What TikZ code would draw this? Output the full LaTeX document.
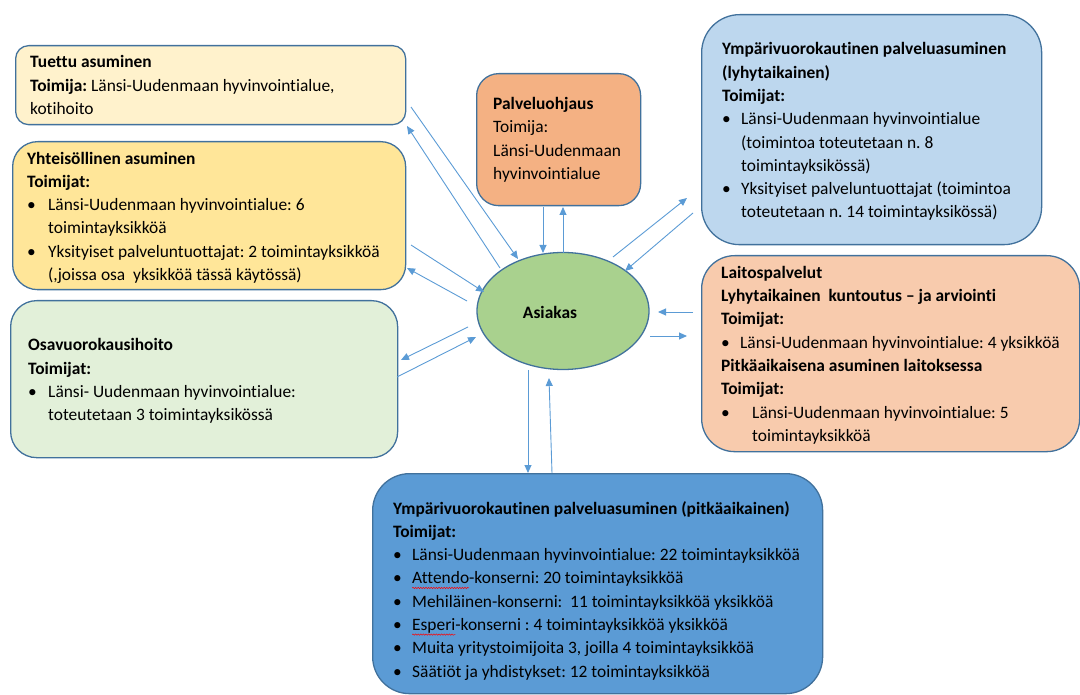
\documentclass[tikz,border=0pt]{standalone}
\usepackage{fontspec}
\setmainfont{Carlito}[Ligatures=NoCommon]
\usetikzlibrary{arrows.meta,shapes.geometric,decorations.pathmorphing}
\definecolor{edgeblue}{HTML}{41719C}
\definecolor{arrowc}{HTML}{5B9BD5}
\definecolor{cTuettu}{HTML}{FFF2CC}
\definecolor{cYht}{HTML}{FFE699}
\definecolor{cOsa}{HTML}{E2F0D9}
\definecolor{cPalv}{HTML}{F4B183}
\definecolor{cLyh}{HTML}{BDD7EE}
\definecolor{cLait}{HTML}{F8CBAD}
\definecolor{cPitk}{HTML}{5B9BD5}
\definecolor{cAsi}{HTML}{A9D18E}
\frenchspacing
% bullet line and continuation line
\newcommand{\bl}[2][19pt]{\makebox[#1][l]{\textbullet}#2}
\newcommand{\cl}[2][19pt]{\hspace*{#1}#2}
\newsavebox{\sqbox}
\newlength{\sqw}
\newcommand{\squig}[1]{\sbox{\sqbox}{#1}\setlength{\sqw}{\wd\sqbox}\rlap{\tikz[overlay]\draw[red,line width=0.5pt,decorate,decoration={snake,amplitude=0.7pt,segment length=2.6pt}] (0pt,-4pt) -- (\sqw,-4pt);}\usebox{\sqbox}}
\tikzset{
  box/.style={draw=edgeblue, line width=1.3pt, anchor=north west, inner sep=0pt},
  txt/.style={anchor=west, inner sep=0pt, align=left, font=\fontsize{17.4}{23.3}\selectfont},
  link/.style={draw=arrowc, line width=0.9pt, -{Triangle[length=8pt,width=7pt]}},
}
\begin{document}
\begin{tikzpicture}[x=1pt,y=-1pt]
\useasboundingbox (0,0) rectangle (1080,695);

% boxes
\node[box, fill=cTuettu, rounded corners=13pt, minimum width=390pt, minimum height=79pt] (tuettu) at (15,45) {};
\node[box, fill=cYht, rounded corners=25pt, minimum width=393pt, minimum height=148pt] (yht) at (12,141) {};
\node[box, fill=cOsa, rounded corners=26pt, minimum width=387pt, minimum height=157pt] (osa) at (10,300) {};
\node[box, fill=cPalv, rounded corners=22pt, minimum width=164pt, minimum height=132pt] (palv) at (476,73) {};
\node[box, fill=cLyh, rounded corners=38pt, minimum width=340pt, minimum height=230pt] (lyh) at (701,14) {};
\node[box, fill=cLait, rounded corners=33pt, minimum width=378pt, minimum height=196pt] (lait) at (701,255) {};
\node[box, fill=cPitk, rounded corners=37pt, minimum width=450pt, minimum height=220pt] (pitk) at (372,473) {};

% texts
\node[txt] (tuettuT) at ([xshift=15pt]tuettu.west)
{\textbf{Tuettu asuminen}\\
\textbf{Toimija:} Länsi-Uudenmaan hyvinvointialue,\\
kotihoito};

\node[txt] (yhtT) at ([xshift=15pt,yshift=-2pt]yht.west)
{\textbf{Yhteisöllinen asuminen}\\
\textbf{Toimijat:}\\
\bl[21pt]{Länsi-Uudenmaan hyvinvointialue: 6}\\
\cl[21pt]{toimintayksikköä}\\
\bl[21pt]{Yksityiset palveluntuottajat: 2 toimintayksikköä}\\
\cl[21pt]{(,joissa osa\ \ yksikköä tässä käytössä)}};

\node[txt] (osaT) at ([xshift=18pt,yshift=-2pt]osa.west)
{\textbf{Osavuorokausihoito}\\
\textbf{Toimijat:}\\
\bl[20pt]{Länsi- Uudenmaan hyvinvointialue:}\\
\cl[20pt]{toteutetaan 3 toimintayksikössä}};

\node[txt] (palvT) at ([xshift=17pt]palv.west)
{\textbf{Palveluohjaus}\\
Toimija:\\
Länsi-Uudenmaan\\
hyvinvointialue};

\node[txt] (lyhT) at ([xshift=21pt,yshift=-2pt]lyh.west)
{\textbf{Ympärivuorokautinen palveluasuminen}\\
\textbf{(lyhytaikainen)}\\
\textbf{Toimijat:}\\
\bl{Länsi-Uudenmaan hyvinvointialue}\\
\cl{(toimintoa toteutetaan n. 8}\\
\cl{toimintayksikössä)}\\
\bl{Yksityiset palveluntuottajat (toimintoa}\\
\cl{toteutetaan n. 14 toimintayksikössä)}};

\node[txt] (laitT) at ([xshift=20pt,yshift=-1.5pt]lait.west)
{\textbf{Laitospalvelut}\\
\textbf{Lyhytaikainen\ \ kuntoutus – ja arviointi}\\
\textbf{Toimijat:}\\
\bl{Länsi-Uudenmaan hyvinvointialue: 4 yksikköä}\\
\textbf{Pitkäaikaisena asuminen laitoksessa}\\
\textbf{Toimijat:}\\
\bl[31pt]{Länsi-Uudenmaan hyvinvointialue: 5}\\
\cl[31pt]{toimintayksikköä}};

\node[txt] (pitkT) at ([xshift=21pt,yshift=-7pt]pitk.west)
{\textbf{Ympärivuorokautinen palveluasuminen (pitkäaikainen)}\\
\textbf{Toimijat:}\\
\bl{Länsi-Uudenmaan hyvinvointialue: 22 toimintayksikköä}\\
\bl{\squig{Attendo}-konserni: 20 toimintayksikköä}\\
\bl{Mehiläinen-konserni:\ \ 11 toimintayksikköä yksikköä}\\
\bl{\squig{Esperi}-konserni : 4 toimintayksikköä yksikköä}\\
\bl{Muita yritystoimijoita 3, joilla 4 toimintayksikköä}\\
\bl{Säätiöt ja yhdistykset: 12 toimintayksikköä}};

% Asiakas
\node[ellipse, draw=edgeblue, line width=1.3pt, fill=cAsi, minimum width=172pt, minimum height=117pt] (asiakas) at (563,311) {};
\node[font=\fontsize{17.4}{20}\selectfont\bfseries, inner sep=0pt] (asiakaslabel) at (550,312) {Asiakas};

% connector end points
\coordinate (t1) at (411,107); \coordinate (t2) at (518,259);
\coordinate (t3) at (500,268); \coordinate (t4) at (407,126);
\coordinate (y1) at (411,245); \coordinate (y2) at (484,292);
\coordinate (y3) at (467,301); \coordinate (y4) at (407,268);
\coordinate (o1) at (468,327); \coordinate (o2) at (401,360);
\coordinate (o3) at (397,377); \coordinate (o4) at (476,337);
\coordinate (p1) at (543,207); \coordinate (p2) at (543,253);
\coordinate (p3) at (563,253); \coordinate (p4) at (563,207);
\coordinate (l1) at (613,257); \coordinate (l2) at (687,198);
\coordinate (l3) at (693,213); \coordinate (l4) at (625,271);
\coordinate (m1) at (693,312); \coordinate (m2) at (658,312);
\coordinate (m3) at (650,336); \coordinate (m4) at (687,336);
\coordinate (b1) at (528,370); \coordinate (b2) at (528,473);
\coordinate (b3) at (552,473); \coordinate (b4) at (549,378);

\draw[link] (t1) -- (t2);
\draw[link] (t3) -- (t4);
\draw[link] (y1) -- (y2);
\draw[link] (y3) -- (y4);
\draw[link] (o1) -- (o2);
\draw[link] (o3) -- (o4);
\draw[link] (p1) -- (p2);
\draw[link] (p3) -- (p4);
\draw[link] (l1) -- (l2);
\draw[link] (l3) -- (l4);
\draw[link] (m1) -- (m2);
\draw[link] (m3) -- (m4);
\draw[link] (b1) -- (b2);
\draw[link] (b3) -- (b4);
\end{tikzpicture}
\end{document}
